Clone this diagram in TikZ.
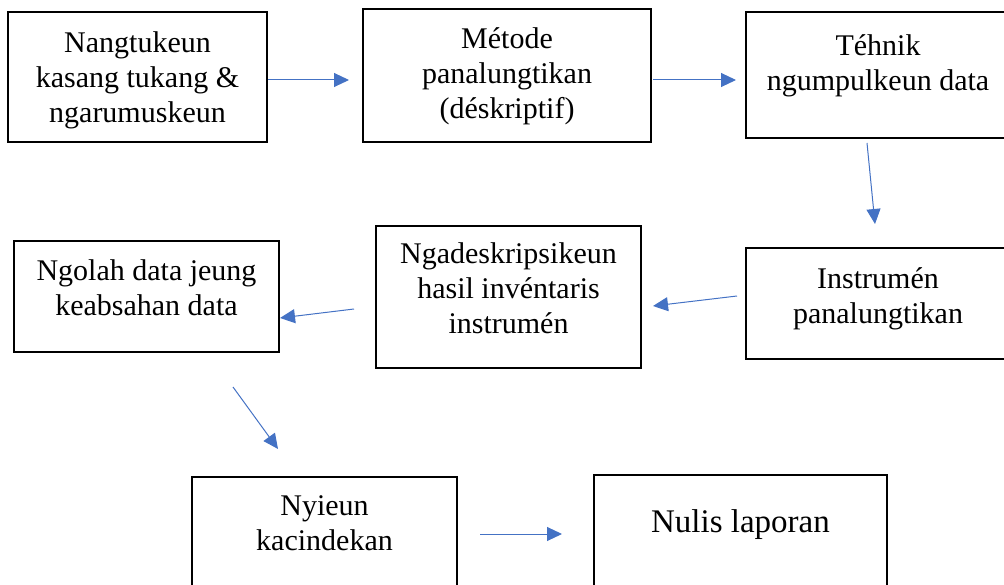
\documentclass[tikz,border=0pt]{standalone}
\usepackage{fontspec}
\setmainfont{Liberation Serif}
\usetikzlibrary{arrows.meta,calc}
\definecolor{arrblue}{HTML}{4472C4}
\begin{document}
\begin{tikzpicture}[x=1pt,y=-1pt,
  box/.style={draw=black, line width=2pt, inner sep=0pt},
  txt/.style={align=center, inner sep=0pt, anchor=north, font=\fontsize{30}{35}\selectfont},
  arr/.style={draw=arrblue, line width=1pt, -{Triangle[length=15pt,width=14pt]}}]
\useasboundingbox (0,0) rectangle (1004,585);
\clip (0,0) rectangle (1004,585);
% boxes
\node[box, minimum width=259pt, minimum height=130pt] (b1) at (137.5,77) {};
\node[box, minimum width=288pt, minimum height=133pt] (b2) at (507,75.5) {};
\node[box, minimum width=264pt, minimum height=126pt] (b3) at (878,75) {};
\node[box, minimum width=264pt, minimum height=111pt] (b4) at (878,303.5) {};
\node[box, minimum width=265pt, minimum height=142pt] (b5) at (508.5,297) {};
\node[box, minimum width=265pt, minimum height=111pt] (b6) at (146.5,296.5) {};
\node[box, minimum width=265pt, minimum height=123pt] (b7) at (324.5,538.5) {};
\node[box, minimum width=293pt, minimum height=125pt] (b8) at (740.5,537.5) {};
% texts
\node[txt] (t1) at (137.5,27.5) {\strut Nangtukeun\\kasang tukang \&\\ngarumuskeun};
\node[txt] (t2) at (507,23.5) {\strut Métode\\panalungtikan\\(déskriptif)};
\node[txt] (t3) at (878,30.5) {\strut Téhnik\\ngumpulkeun data};
\node[txt] (t4) at (878,263.5) {\strut Instrumén\\panalungtikan};
\node[txt] (t5) at (508.5,238.5) {\strut Ngadeskripsikeun\\hasil invéntaris\\instrumén};
\node[txt] (t6) at (146.5,255.5) {\strut Ngolah data jeung\\keabsahan data};
\node[txt] (t7) at (324.5,490.5) {\strut Nyieun\\kacindekan};
\node[inner sep=0pt, anchor=base, font=\fontsize{33}{38}\selectfont] (t8) at (740.5,532) {Nulis laporan};
% arrows
\draw[arr] ($(b1.east)+(0,3)$) -- ($(b2.west)+(-13,4.5)$);
\draw[arr] ($(b2.east)+(1,4.5)$) -- ($(b3.west)+(-9,5)$);
\draw[arr] ($(b3.south)+(-11,4)$) -- ($(b4.north)+(-3,-23)$);
\draw[arr] ($(b4.west)+(-8,-7.5)$) -- ($(b5.east)+(11,9)$);
\draw[arr] ($(b5.west)+(-21,12)$) -- ($(b6.east)+(0,21.5)$);
\draw[arr] ($(b6.south)+(86.5,34)$) -- ($(b7.north)+(-46.5,-27)$);
\draw[arr] ($(b7.east)+(22,-4.5)$) -- ($(b8.west)+(-31,-3.5)$);
\end{tikzpicture}
\end{document}
